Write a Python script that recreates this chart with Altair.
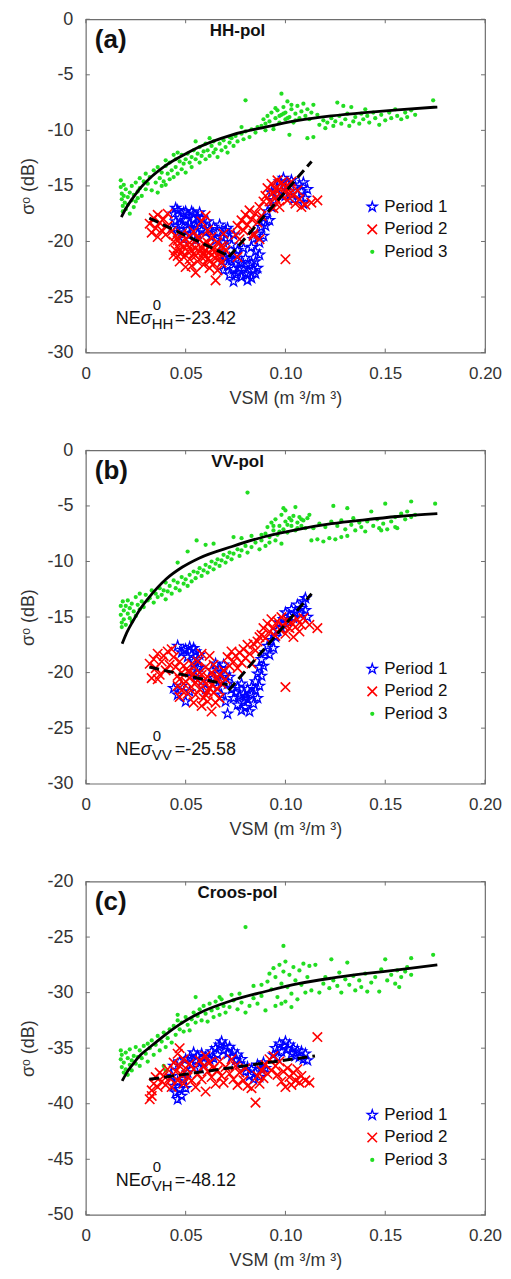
import altair as alt
import pandas as pd

FONT = "Liberation Sans"
W, H = 400, 334

X_TICKS = [0.0, 0.05, 0.10, 0.15, 0.20]
Y_TICKS_AB = [0, -5, -10, -15, -20, -25, -30]
Y_TICKS_C = [-20, -25, -30, -35, -40, -45, -50]
LEGEND_LABELS = ["Period 1", "Period 2", "Period 3"]

BLUE, RED, GREEN = "#0000ff", "#ff0000", "#22dd22"
STAR = ("M0,-1L0.2245,-0.309L0.9511,-0.309L0.3633,0.118L0.5878,0.809L0,0.382"
        "L-0.5878,0.809L-0.3633,0.118L-0.9511,-0.309L-0.2245,-0.309Z")
XMARK = "M-1,-1L1,1M-1,1L1,-1"

# ---------------- Panel (a) HH-pol ----------------
A_P3 = [
    [0.0175, -14.5], [0.0175, -15.1], [0.018, -15.7], [0.018, -16.2], [0.0185, -16.8], [0.0185, -17.3],
    [0.019, -14.9], [0.019, -15.9], [0.0195, -16.5], [0.020, -17.1], [0.020, -15.3], [0.021, -16.0],
    [0.021, -16.7], [0.022, -17.5], [0.022, -15.6], [0.023, -16.3], [0.023, -15.0], [0.024, -16.9],
    [0.024, -15.8], [0.025, -16.4], [0.025, -14.7], [0.026, -15.5], [0.026, -16.1], [0.027, -14.3],
    [0.027, -15.2], [0.028, -15.9], [0.029, -14.6], [0.030, -15.3], [0.030, -13.9], [0.031, -14.8],
    [0.032, -14.2], [0.033, -15.4], [0.034, -13.6], [0.035, -14.7], [0.036, -15.6], [0.036, -13.3],
    [0.037, -14.3], [0.038, -15.0], [0.038, -13.8], [0.039, -14.6], [0.040, -13.2], [0.040, -14.9],
    [0.041, -13.9], [0.042, -14.4], [0.042, -12.9], [0.043, -13.6], [0.044, -14.2], [0.045, -12.6],
    [0.045, -13.3], [0.046, -13.9], [0.047, -12.8], [0.048, -13.5], [0.048, -12.2], [0.049, -13.0],
    [0.050, -12.6], [0.050, -13.8], [0.051, -12.1], [0.052, -12.9], [0.053, -12.4], [0.053, -13.3],
    [0.054, -11.8], [0.055, -12.6], [0.056, -12.1], [0.057, -12.9], [0.057, -11.5], [0.058, -12.3],
    [0.059, -11.9], [0.060, -12.6], [0.060, -11.2], [0.061, -11.8], [0.062, -12.3], [0.063, -11.4],
    [0.064, -12.0], [0.064, -11.0], [0.065, -11.7], [0.066, -12.4], [0.067, -11.2], [0.068, -11.8],
    [0.069, -10.9], [0.070, -11.5], [0.071, -12.0], [0.072, -11.1], [0.073, -10.7], [0.074, -11.4],
    [0.075, -10.5], [0.076, -11.0], [0.078, -10.3], [0.079, -10.8], [0.080, -10.1], [0.082, -10.6],
    [0.083, -9.9], [0.085, -10.2], [0.086, -9.7], [0.040, -12.7], [0.044, -12.2], [0.046, -12.0],
    [0.055, -11.0], [0.062, -10.7], [0.072, -10.6], [0.078, -9.7], [0.080, -7.3],
    [0.088, -9.6], [0.089, -9.0], [0.090, -9.4], [0.091, -8.7], [0.092, -9.2], [0.093, -8.4],
    [0.094, -9.6], [0.095, -8.9], [0.096, -8.2], [0.097, -9.3], [0.098, -8.6], [0.098, -6.7],
    [0.099, -7.9], [0.100, -9.0], [0.100, -8.4], [0.101, -7.4], [0.102, -8.8], [0.103, -8.1],
    [0.104, -9.3], [0.105, -8.5], [0.106, -7.8], [0.107, -8.9], [0.108, -8.3], [0.109, -7.6],
    [0.110, -8.7], [0.111, -8.1], [0.112, -9.0], [0.113, -8.4], [0.114, -7.7], [0.116, -8.6],
    [0.102, -10.4], [0.111, -10.7], [0.114, -10.6], [0.090, -10.0], [0.094, -9.9],
    [0.095, -8.0], [0.097, -8.7], [0.099, -8.5], [0.101, -8.9], [0.103, -7.7], [0.105, -9.1],
    [0.117, -9.5], [0.119, -9.1], [0.120, -9.8], [0.121, -9.3], [0.123, -8.9], [0.124, -9.6],
    [0.125, -9.2], [0.126, -7.5], [0.127, -8.7], [0.128, -9.4], [0.130, -9.0], [0.131, -8.5],
    [0.132, -9.6], [0.133, -7.9], [0.134, -9.2], [0.135, -8.8], [0.137, -9.4], [0.138, -8.5],
    [0.139, -9.0], [0.141, -8.7], [0.142, -9.3], [0.144, -8.4], [0.145, -8.9], [0.147, -9.5],
    [0.148, -8.6], [0.150, -9.1], [0.152, -8.4], [0.153, -8.9], [0.155, -8.1], [0.156, -8.7],
    [0.158, -9.0], [0.160, -8.4], [0.161, -8.8], [0.163, -8.2], [0.165, -8.6], [0.174, -7.3],
    [0.129, -7.8], [0.140, -8.1],
]
A_P1 = [
    [0.044, -17.5], [0.045, -18.2], [0.046, -17.2], [0.047, -17.9], [0.048, -18.6], [0.049, -17.4],
    [0.050, -18.1], [0.051, -17.6], [0.052, -18.4], [0.053, -17.3], [0.054, -18.0], [0.055, -18.7],
    [0.056, -17.8], [0.057, -18.3], [0.058, -19.0], [0.046, -19.2], [0.049, -19.8], [0.052, -19.4],
    [0.055, -19.9], [0.043, -18.8], [0.059, -18.4], [0.060, -19.2],
    [0.045, -17.0], [0.047, -18.5], [0.050, -17.3], [0.051, -18.9], [0.053, -18.8], [0.054, -17.5],
    [0.056, -19.3], [0.057, -17.4], [0.058, -17.9], [0.061, -18.2], [0.062, -18.9],
    [0.063, -19.5], [0.064, -18.7], [0.065, -19.9], [0.066, -19.2], [0.067, -18.5], [0.068, -19.6],
    [0.069, -20.1], [0.070, -19.0], [0.071, -18.8], [0.072, -19.7], [0.073, -20.3], [0.074, -19.4],
    [0.067, -21.0], [0.068, -21.8], [0.069, -22.6], [0.070, -21.4], [0.071, -22.2], [0.072, -23.0],
    [0.073, -21.7], [0.074, -22.5], [0.074, -23.6], [0.075, -21.2], [0.076, -22.8], [0.077, -21.9],
    [0.078, -23.2], [0.079, -22.4], [0.080, -21.5], [0.081, -22.9], [0.082, -22.1], [0.083, -23.3],
    [0.084, -22.6], [0.085, -21.8], [0.086, -22.4], [0.087, -21.2], [0.076, -20.8], [0.079, -20.6],
    [0.081, -23.5], [0.072, -21.5], [0.075, -23.0], [0.077, -22.4], [0.080, -22.9], [0.083, -21.9],
    [0.085, -22.9], [0.078, -22.0],
    [0.083, -20.5], [0.084, -19.8], [0.085, -20.9], [0.086, -19.3], [0.087, -20.1], [0.088, -18.7],
    [0.089, -19.5], [0.089, -17.9], [0.090, -18.6], [0.091, -17.3], [0.092, -18.1], [0.093, -16.9],
    [0.093, -15.6], [0.094, -16.3], [0.095, -15.0], [0.096, -15.8], [0.097, -14.6], [0.098, -15.4],
    [0.099, -14.3], [0.100, -15.9], [0.101, -14.8], [0.102, -15.5], [0.103, -14.5], [0.104, -16.2],
    [0.105, -15.1], [0.106, -15.8], [0.107, -14.9], [0.108, -15.5], [0.109, -14.7], [0.110, -16.1],
    [0.109, -16.6], [0.111, -15.3],
]
A_P2 = [
    [0.032, -18.4], [0.033, -19.2], [0.034, -17.9], [0.035, -18.8], [0.036, -19.6], [0.036, -17.6],
    [0.037, -18.3], [0.038, -19.0], [0.039, -18.0], [0.040, -19.4], [0.041, -17.5], [0.041, -18.6],
    [0.043, -19.1], [0.044, -20.0], [0.045, -20.8], [0.045, -19.5], [0.046, -21.3], [0.047, -20.2],
    [0.048, -19.3], [0.048, -21.0], [0.049, -20.5], [0.050, -19.8], [0.050, -22.3], [0.051, -20.9],
    [0.052, -19.5], [0.052, -21.6], [0.053, -20.3], [0.054, -19.1], [0.054, -21.1], [0.055, -20.6],
    [0.056, -21.8], [0.056, -19.7], [0.057, -20.9], [0.058, -18.2], [0.058, -21.4], [0.059, -20.2],
    [0.059, -22.1], [0.060, -17.7], [0.060, -20.8], [0.061, -21.6], [0.061, -19.0], [0.062, -22.4],
    [0.062, -20.4], [0.063, -21.2], [0.063, -19.6], [0.064, -22.0], [0.064, -20.7], [0.065, -23.5],
    [0.065, -21.5], [0.066, -20.1], [0.066, -22.6], [0.067, -21.0], [0.068, -20.4], [0.068, -21.9],
    [0.069, -19.3], [0.070, -20.8], [0.055, -22.8], [0.053, -22.2], [0.047, -21.8], [0.044, -21.2],
    [0.046, -19.9], [0.047, -20.7], [0.049, -21.4], [0.051, -20.3], [0.053, -20.8], [0.055, -21.3],
    [0.057, -19.8], [0.058, -20.6], [0.060, -21.3], [0.061, -20.1], [0.063, -20.7], [0.065, -20.9],
    [0.067, -21.5], [0.069, -20.5], [0.062, -21.8], [0.059, -21.0], [0.076, -21.4],
    [0.075, -19.4], [0.076, -18.6], [0.077, -19.8], [0.078, -18.1], [0.079, -19.0], [0.080, -17.6],
    [0.081, -18.5], [0.082, -17.2], [0.083, -18.0], [0.084, -19.3], [0.085, -17.5], [0.086, -18.3],
    [0.087, -16.9], [0.088, -17.7], [0.089, -16.4], [0.084, -19.5], [0.087, -19.8],
    [0.090, -15.9], [0.091, -15.2], [0.092, -16.4], [0.093, -14.8], [0.094, -15.6], [0.095, -16.1],
    [0.096, -14.5], [0.097, -15.3], [0.098, -15.9], [0.099, -14.9], [0.100, -15.6], [0.101, -16.3],
    [0.102, -15.1], [0.103, -14.6], [0.104, -15.8], [0.105, -16.6], [0.106, -15.4], [0.107, -16.2],
    [0.108, -16.9], [0.110, -16.7], [0.113, -16.5], [0.116, -16.3], [0.100, -21.6], [0.097, -16.9],
    [0.094, -17.0], [0.095, -15.3], [0.098, -14.7], [0.100, -15.1], [0.102, -15.7], [0.096, -16.4],
]
A_CURVE = [
    [0.0178, -17.8], [0.0205, -16.9], [0.0235, -16.1], [0.0275, -15.15], [0.0318, -14.35],
    [0.0401, -13.15], [0.0501, -12.1], [0.0567, -11.5], [0.0733, -10.4], [0.0899, -9.7],
    [0.1065, -9.1], [0.1231, -8.7], [0.1396, -8.4], [0.1562, -8.15], [0.1761, -7.9],
]
A_DASH = [[0.0318, -17.9, 1], [0.0716, -21.3, 1], [0.0716, -21.4, 2], [0.1131, -12.8, 2]]

# ---------------- Panel (b) VV-pol ----------------
B_P3 = [
    [0.0175, -14.0], [0.0175, -14.8], [0.018, -15.5], [0.018, -15.9], [0.0185, -13.6], [0.019, -14.4],
    [0.019, -15.2], [0.020, -14.0], [0.020, -15.7], [0.021, -14.7], [0.021, -13.5], [0.022, -15.1],
    [0.022, -14.2], [0.023, -13.8], [0.023, -15.4], [0.024, -14.5], [0.025, -13.2], [0.025, -14.9],
    [0.026, -13.9], [0.027, -14.3], [0.027, -12.9], [0.028, -13.6], [0.029, -14.1], [0.030, -13.0],
    [0.031, -13.5],
    [0.032, -13.3], [0.033, -12.6], [0.034, -13.7], [0.035, -12.9], [0.036, -13.2], [0.037, -12.4],
    [0.038, -13.0], [0.039, -12.6], [0.040, -13.4], [0.040, -11.9], [0.041, -12.7], [0.042, -12.2],
    [0.043, -12.9], [0.044, -11.7], [0.045, -12.4], [0.046, -11.9], [0.047, -12.6], [0.048, -11.4],
    [0.049, -12.0], [0.050, -11.6], [0.051, -12.2], [0.052, -11.2], [0.053, -11.8], [0.054, -10.9],
    [0.055, -11.5], [0.056, -11.0], [0.057, -10.6], [0.058, -11.3], [0.059, -10.8], [0.060, -10.3],
    [0.061, -11.0], [0.062, -10.5], [0.063, -10.0], [0.064, -10.7], [0.065, -10.2], [0.066, -9.8],
    [0.067, -10.4], [0.068, -9.9], [0.069, -9.4], [0.070, -10.1], [0.071, -9.6], [0.072, -9.2],
    [0.073, -9.8], [0.074, -9.3], [0.076, -8.9], [0.077, -9.5], [0.078, -9.0], [0.080, -8.6],
    [0.081, -9.2], [0.083, -8.7], [0.085, -8.3], [0.087, -8.9], [0.088, -8.1],
    [0.046, -10.1], [0.051, -9.1], [0.0555, -8.1], [0.060, -8.5], [0.064, -8.4], [0.074, -7.8],
    [0.078, -7.9], [0.083, -7.7], [0.088, -7.6], [0.081, -3.8],
    [0.090, -7.5], [0.091, -6.9], [0.092, -7.8], [0.093, -6.5], [0.094, -7.2], [0.095, -6.2],
    [0.096, -7.6], [0.097, -6.8], [0.098, -5.8], [0.099, -7.1], [0.100, -6.4], [0.100, -5.4],
    [0.101, -7.4], [0.102, -6.1], [0.103, -6.8], [0.104, -5.9], [0.105, -7.2], [0.106, -6.5],
    [0.107, -6.0], [0.108, -6.8], [0.109, -6.3], [0.110, -7.0], [0.111, -6.1], [0.112, -5.8],
    [0.092, -8.3], [0.095, -8.1], [0.098, -8.4], [0.090, -8.6], [0.099, -5.2], [0.105, -5.1],
    [0.094, -6.8], [0.097, -7.3], [0.101, -6.7], [0.103, -6.3], [0.106, -7.0], [0.108, -6.2],
    [0.113, -8.1], [0.116, -8.0], [0.119, -8.2], [0.122, -7.9], [0.125, -8.0], [0.128, -7.8],
    [0.131, -7.7], [0.114, -7.0], [0.117, -6.6], [0.120, -6.9], [0.123, -6.4], [0.124, -5.0],
    [0.126, -6.8], [0.128, -6.3], [0.130, -7.1], [0.131, -5.2], [0.133, -6.7], [0.134, -6.1],
    [0.135, -7.2], [0.137, -6.5], [0.138, -6.9], [0.140, -7.3], [0.141, -6.4], [0.143, -5.5],
    [0.144, -6.8], [0.146, -6.2], [0.147, -7.0], [0.149, -6.6], [0.150, -4.8], [0.151, -7.1],
    [0.153, -6.4], [0.155, -6.0], [0.156, -7.0], [0.158, -5.7], [0.160, -6.2], [0.161, -5.5],
    [0.163, -4.6], [0.163, -6.0], [0.165, -5.8], [0.175, -4.8], [0.155, -6.9], [0.148, -7.2],
]
B_P1 = [
    [0.046, -17.6], [0.048, -18.2], [0.050, -17.9], [0.051, -18.6], [0.052, -17.7], [0.053, -18.4],
    [0.054, -19.0], [0.055, -18.1], [0.056, -18.8], [0.057, -19.5], [0.053, -19.9], [0.055, -20.4],
    [0.044, -21.4], [0.046, -22.0], [0.048, -21.2], [0.050, -22.6], [0.052, -21.7], [0.058, -20.8],
    [0.060, -21.5], [0.049, -18.0], [0.054, -17.8], [0.056, -19.6], [0.057, -18.4],
    [0.063, -19.8], [0.064, -20.5], [0.065, -19.2], [0.066, -20.1], [0.067, -19.6], [0.068, -20.7],
    [0.069, -19.3], [0.070, -20.2], [0.071, -21.0], [0.072, -20.4], [0.066, -21.3], [0.068, -22.0],
    [0.070, -22.6], [0.071, -23.7],
    [0.073, -21.5], [0.074, -22.3], [0.075, -21.8], [0.076, -22.9], [0.077, -22.1], [0.078, -23.4],
    [0.079, -22.6], [0.080, -23.1], [0.081, -22.4], [0.082, -23.5], [0.083, -22.0], [0.084, -22.8],
    [0.085, -21.6], [0.086, -22.3], [0.087, -21.2], [0.078, -21.0], [0.081, -21.5], [0.076, -21.3],
    [0.079, -21.9], [0.083, -21.3], [0.080, -22.2],
    [0.085, -20.8], [0.086, -20.1], [0.087, -19.5], [0.088, -20.3], [0.088, -18.8], [0.089, -19.4],
    [0.090, -18.2], [0.091, -17.6], [0.092, -18.4], [0.093, -17.1], [0.094, -17.8], [0.095, -16.8],
    [0.096, -16.2], [0.097, -15.5], [0.098, -16.0], [0.099, -15.2], [0.100, -14.6], [0.101, -15.4],
    [0.102, -14.9], [0.103, -14.3], [0.104, -15.1], [0.105, -14.6], [0.106, -13.9], [0.107, -14.7],
    [0.108, -14.2], [0.109, -13.6], [0.110, -14.4], [0.111, -15.0], [0.110, -13.3],
]
B_P2 = [
    [0.032, -19.2], [0.033, -20.5], [0.034, -18.8], [0.035, -19.6], [0.036, -18.3], [0.037, -20.2],
    [0.038, -19.0], [0.039, -18.5], [0.040, -19.8], [0.041, -18.1], [0.042, -19.3], [0.043, -17.9],
    [0.036, -20.6],
    [0.044, -18.6], [0.045, -19.5], [0.046, -20.3], [0.046, -21.2], [0.047, -19.0], [0.048, -20.0],
    [0.048, -21.6], [0.049, -19.4], [0.050, -20.8], [0.051, -19.9], [0.051, -21.9], [0.052, -20.5],
    [0.053, -19.2], [0.053, -21.3], [0.054, -20.1], [0.055, -22.0], [0.056, -20.7], [0.056, -19.0],
    [0.057, -21.5], [0.058, -20.2], [0.058, -18.3], [0.059, -22.3], [0.060, -21.0], [0.060, -19.5],
    [0.061, -20.4], [0.061, -22.6], [0.062, -21.4], [0.062, -18.5], [0.063, -20.0], [0.063, -23.5],
    [0.064, -21.8], [0.064, -19.3], [0.065, -22.7], [0.065, -20.6], [0.066, -21.5], [0.067, -20.2],
    [0.067, -22.3], [0.068, -21.0], [0.069, -19.8], [0.070, -20.6], [0.047, -22.2], [0.054, -22.7],
    [0.058, -23.0], [0.047, -20.6], [0.049, -21.0], [0.052, -19.9], [0.055, -20.9], [0.057, -20.0],
    [0.059, -20.7], [0.061, -21.7], [0.063, -21.1], [0.066, -20.4], [0.060, -22.0],
    [0.071, -18.6], [0.072, -19.4], [0.073, -18.1], [0.074, -19.0], [0.075, -18.5], [0.076, -19.6],
    [0.077, -18.2], [0.078, -19.1], [0.079, -17.9], [0.080, -18.7], [0.081, -17.5], [0.082, -18.3],
    [0.083, -19.2], [0.084, -17.4], [0.085, -18.0], [0.086, -17.2], [0.087, -16.8],
    [0.088, -16.6], [0.089, -16.0], [0.090, -16.9], [0.091, -15.6], [0.092, -16.3], [0.093, -15.2],
    [0.094, -16.0], [0.095, -16.7], [0.096, -15.4], [0.097, -16.1], [0.098, -15.0], [0.099, -15.8],
    [0.100, -16.5], [0.101, -15.3], [0.102, -16.0], [0.103, -15.5], [0.104, -16.8], [0.105, -15.9],
    [0.106, -15.2], [0.107, -16.3], [0.108, -15.7], [0.109, -15.1], [0.112, -15.7], [0.116, -16.0],
    [0.100, -21.3],
]
B_CURVE = [
    [0.0182, -17.4], [0.0205, -16.4], [0.0235, -15.4], [0.0275, -14.2], [0.0318, -13.2],
    [0.0401, -11.6], [0.0484, -10.5], [0.0567, -9.7], [0.0733, -8.65], [0.0899, -7.75],
    [0.1065, -7.1], [0.1231, -6.6], [0.1396, -6.25], [0.1562, -5.95], [0.1761, -5.7],
]
B_DASH = [[0.0318, -19.5, 1], [0.0710, -21.1, 1], [0.0716, -21.6, 2], [0.1131, -12.9, 2]]

# ---------------- Panel (c) Cross-pol ----------------
C_P3 = [
    [0.0175, -35.2], [0.0175, -36.0], [0.018, -36.7], [0.018, -35.6], [0.019, -37.2], [0.019, -36.3],
    [0.020, -35.4], [0.020, -36.9], [0.021, -35.9], [0.021, -37.4], [0.022, -36.5], [0.022, -35.1],
    [0.023, -36.1], [0.023, -37.0], [0.024, -35.7], [0.025, -36.4], [0.025, -34.9], [0.026, -35.8],
    [0.027, -36.6], [0.027, -35.2], [0.028, -35.9], [0.029, -34.8], [0.030, -35.5], [0.031, -36.2],
    [0.031, -34.6],
    [0.032, -35.0], [0.033, -34.3], [0.034, -35.6], [0.035, -34.7], [0.036, -33.9], [0.037, -35.2],
    [0.038, -34.4], [0.039, -36.6], [0.039, -33.6], [0.040, -34.9], [0.040, -37.0], [0.041, -34.1],
    [0.042, -33.3], [0.043, -34.5], [0.044, -33.0], [0.045, -33.8], [0.046, -32.5], [0.046, -32.0],
    [0.047, -33.3], [0.048, -32.7], [0.049, -33.5], [0.050, -32.2], [0.051, -32.9], [0.052, -33.4],
    [0.053, -32.4], [0.054, -31.8], [0.055, -32.7], [0.055, -30.4], [0.056, -32.1], [0.057, -31.5],
    [0.058, -32.5], [0.059, -31.2], [0.060, -31.9], [0.061, -32.6], [0.062, -31.0], [0.063, -31.6],
    [0.064, -32.2], [0.065, -30.8], [0.066, -31.4], [0.067, -32.0], [0.068, -30.6], [0.069, -31.2],
    [0.070, -31.8], [0.067, -30.4], [0.073, -30.2], [0.077, -30.1], [0.084, -29.4], [0.088, -29.3],
    [0.072, -31.3], [0.074, -30.7], [0.076, -31.5], [0.078, -30.9], [0.080, -31.8], [0.080, -24.1],
    [0.082, -31.2], [0.084, -30.5], [0.086, -31.0], [0.088, -30.3], [0.090, -31.6],
    [0.091, -29.0], [0.092, -28.3], [0.093, -29.7], [0.094, -27.8], [0.095, -28.6], [0.096, -30.4],
    [0.097, -27.5], [0.098, -29.2], [0.099, -25.8], [0.099, -28.1], [0.100, -30.8], [0.100, -27.2],
    [0.101, -29.5], [0.102, -28.4], [0.103, -30.1], [0.104, -27.7], [0.105, -28.9], [0.106, -30.6],
    [0.107, -28.0], [0.108, -29.3], [0.109, -27.4], [0.110, -30.0], [0.111, -28.6], [0.112, -27.6],
    [0.113, -29.8], [0.115, -27.5], [0.095, -31.2], [0.098, -31.0], [0.103, -31.3],
    [0.117, -30.0], [0.119, -29.2], [0.120, -28.6], [0.122, -29.6], [0.123, -27.0], [0.124, -28.9],
    [0.126, -29.4], [0.127, -28.2], [0.128, -30.0], [0.130, -28.8], [0.131, -27.3], [0.132, -29.3],
    [0.134, -28.5], [0.135, -29.8], [0.137, -28.9], [0.138, -29.5], [0.140, -28.3], [0.141, -29.9],
    [0.143, -29.1], [0.145, -28.6], [0.147, -29.9], [0.148, -27.9], [0.150, -27.0], [0.151, -28.9],
    [0.153, -28.4], [0.155, -29.2], [0.156, -28.0], [0.158, -28.6], [0.160, -28.1], [0.161, -27.7],
    [0.163, -28.4], [0.163, -26.9], [0.174, -26.6], [0.157, -29.5],
]
C_P1 = [
    [0.043, -37.5], [0.044, -38.4], [0.045, -39.0], [0.046, -38.0], [0.046, -39.6], [0.047, -38.7],
    [0.048, -39.3], [0.049, -37.8], [0.050, -38.6], [0.051, -37.2], [0.044, -36.6], [0.047, -36.2],
    [0.050, -36.0],
    [0.052, -35.9], [0.053, -36.5], [0.054, -35.4], [0.055, -36.1], [0.056, -35.7], [0.057, -36.8],
    [0.058, -35.5], [0.059, -36.3], [0.060, -35.8],
    [0.062, -36.0], [0.063, -35.3], [0.064, -35.9], [0.065, -35.0], [0.066, -35.6], [0.067, -34.7],
    [0.068, -34.4], [0.069, -35.2], [0.070, -34.8], [0.071, -35.5], [0.072, -34.9], [0.073, -35.8],
    [0.074, -35.3], [0.075, -36.1], [0.076, -35.6], [0.077, -36.4], [0.078, -36.0],
    [0.080, -37.1], [0.081, -36.7], [0.082, -37.5], [0.083, -36.9], [0.084, -37.8], [0.085, -37.2],
    [0.086, -36.5], [0.087, -37.6], [0.088, -36.9], [0.089, -36.3], [0.090, -36.8],
    [0.094, -35.6], [0.095, -35.0], [0.096, -35.8], [0.097, -34.6], [0.098, -35.3], [0.099, -34.8],
    [0.100, -34.4], [0.101, -35.1], [0.102, -34.7], [0.103, -35.5], [0.104, -35.0], [0.105, -35.7],
    [0.106, -35.2], [0.107, -35.8], [0.108, -35.3], [0.109, -36.0], [0.110, -35.5], [0.111, -36.1],
]
C_P2 = [
    [0.032, -39.6], [0.033, -38.8], [0.033, -39.3], [0.034, -38.2], [0.035, -37.6], [0.036, -38.5],
    [0.037, -37.2], [0.038, -38.0], [0.039, -37.5], [0.040, -38.3], [0.041, -36.9], [0.042, -37.7],
    [0.043, -38.5], [0.044, -36.3], [0.045, -37.1], [0.046, -35.5], [0.046, -37.9], [0.047, -35.0],
    [0.047, -36.6], [0.048, -37.4], [0.049, -36.0], [0.049, -38.2], [0.050, -36.8], [0.051, -37.6],
    [0.052, -36.4], [0.053, -37.9], [0.054, -36.9], [0.055, -38.5], [0.056, -37.3], [0.057, -36.1],
    [0.058, -37.8], [0.059, -36.6], [0.060, -35.7], [0.060, -38.9], [0.061, -37.1], [0.062, -36.3],
    [0.063, -37.6], [0.064, -36.8], [0.065, -38.2], [0.066, -37.0], [0.067, -36.2], [0.068, -37.5],
    [0.069, -38.1], [0.070, -36.7], [0.072, -37.3], [0.073, -36.0], [0.074, -37.8], [0.075, -36.6],
    [0.076, -38.3], [0.077, -37.2], [0.079, -37.9], [0.080, -36.8], [0.081, -38.4], [0.083, -38.6],
    [0.085, -39.9], [0.086, -37.5], [0.087, -38.2], [0.088, -37.0], [0.089, -37.7], [0.090, -36.5],
    [0.091, -37.3], [0.092, -36.0], [0.093, -37.0], [0.094, -35.7], [0.095, -36.6], [0.096, -37.4],
    [0.097, -36.2], [0.098, -38.0], [0.099, -37.1], [0.100, -38.5], [0.101, -36.8], [0.102, -37.6],
    [0.103, -38.3], [0.104, -37.2], [0.105, -37.9], [0.106, -36.9], [0.107, -38.1], [0.108, -37.5],
    [0.110, -37.9], [0.112, -38.1], [0.116, -34.0],
]
C_CURVE = [
    [0.0182, -37.95], [0.0205, -37.2], [0.0235, -36.45], [0.0275, -35.6], [0.0318, -34.95],
    [0.0401, -33.75], [0.0484, -32.7], [0.0567, -31.85], [0.0733, -30.7], [0.0899, -29.9],
    [0.1065, -29.2], [0.1231, -28.7], [0.1396, -28.3], [0.1562, -27.95], [0.1761, -27.5],
]
C_DASH = [[0.0318, -37.8, 1], [0.1148, -35.7, 1]]

PANELS = [
    dict(p1=A_P1, p2=A_P2, p3=A_P3, curve=A_CURVE, dash=A_DASH, dom=[-30, 0], ticks=Y_TICKS_AB,
         letter="(a)", pol="HH-pol", sub="HH", val="=-23.42", leg=188),
    dict(p1=B_P1, p2=B_P2, p3=B_P3, curve=B_CURVE, dash=B_DASH, dom=[-30, 0], ticks=Y_TICKS_AB,
         letter="(b)", pol="VV-pol", sub="VV", val="=-25.58", leg=219),
    dict(p1=C_P1, p2=C_P2, p3=C_P3, curve=C_CURVE, dash=C_DASH, dom=[-50, -20], ticks=Y_TICKS_C,
         letter="(c)", pol="Croos-pol", sub="VH", val="=-48.12", leg=234),
]


def frame(pairs):
    return pd.DataFrame(pairs, columns=["vsm", "db"])


def text_layer(txt, x, y, size, weight="normal", align="left", baseline="alphabetic", style="normal"):
    return alt.Chart(pd.DataFrame({"t": [txt]})).mark_text(
        font=FONT, fontSize=size, fontWeight=weight, fontStyle=style, align=align,
        baseline=baseline, color="#111111"
    ).encode(x=alt.value(x), y=alt.value(y), text="t:N")


def star_mark():
    return dict(shape=STAR, filled=False, color=BLUE, size=110, strokeWidth=1.3, opacity=1)


def x_mark():
    return dict(shape=XMARK, filled=False, color=RED, size=90, strokeWidth=1.6, opacity=1)


def dot_mark():
    return dict(color=GREEN, size=18, opacity=1)


def panel(cfg):
    xenc = alt.X("vsm:Q", scale=alt.Scale(domain=[0, 0.2], nice=False, zero=False),
                 axis=alt.Axis(values=X_TICKS, title="VSM (m ³/m ³)", labelFontSize=17,
                               labelExpr="datum.value == 0 ? '0' : format(datum.value, '.2f')"))
    yenc = alt.Y("db:Q", scale=alt.Scale(domain=cfg["dom"], nice=False, zero=False),
                 axis=alt.Axis(values=cfg["ticks"], title="σᵒ (dB)", labelExpr="'' + datum.value"))

    layers = []
    # inward ticks on all four sides
    xt = alt.Chart(pd.DataFrame({"vsm": X_TICKS}))
    yt = alt.Chart(pd.DataFrame({"db": cfg["ticks"]}))
    tick_style = dict(color="#6e6e6e", strokeWidth=1)
    layers += [
        xt.mark_rule(**tick_style).encode(x=xenc, y=alt.value(H), y2=alt.value(H - 4)),
        xt.mark_rule(**tick_style).encode(x=xenc, y=alt.value(0), y2=alt.value(4)),
        yt.mark_rule(**tick_style).encode(y=yenc, x=alt.value(0), x2=alt.value(4)),
        yt.mark_rule(**tick_style).encode(y=yenc, x=alt.value(W), x2=alt.value(W - 4)),
    ]
    layers.append(alt.Chart(frame(cfg["p3"])).mark_circle(**dot_mark()).encode(x=xenc, y=yenc))
    layers.append(alt.Chart(frame(cfg["p1"])).mark_point(**star_mark()).encode(x=xenc, y=yenc))
    layers.append(alt.Chart(frame(cfg["p2"])).mark_point(**x_mark()).encode(x=xenc, y=yenc))
    layers.append(alt.Chart(frame(cfg["curve"])).mark_line(color="black", strokeWidth=2.8,
                                                            interpolate="monotone")
                  .encode(x=xenc, y=yenc))
    dash = pd.DataFrame(cfg["dash"], columns=["vsm", "db", "seg"])
    layers.append(alt.Chart(dash).mark_line(color="black", strokeWidth=3, strokeDash=[10, 5])
                  .encode(x=xenc, y=yenc, detail="seg:N"))

    # panel texts
    layers.append(text_layer(cfg["letter"], 9, 29, 26, weight="bold"))
    layers.append(text_layer(cfg["pol"], 152, 17, 17, weight="bold", align="center"))
    layers.append(text_layer("NE", 30, 305, 18))
    layers.append(text_layer("σ", 55, 305, 18, style="italic"))
    layers.append(text_layer("0", 67, 291, 15))
    layers.append(text_layer(cfg["sub"], 66, 310, 15))
    layers.append(text_layer(cfg["val"], 89, 305, 18))

    # legend
    ly = cfg["leg"]
    marks = [star_mark(), x_mark(), dot_mark()]
    for i, lab in enumerate(LEGEND_LABELS):
        yy = ly + 22.5 * i
        one = alt.Chart(pd.DataFrame({"t": [lab]}))
        if i < 2:
            layers.append(one.mark_point(**marks[i]).encode(x=alt.value(287), y=alt.value(yy)))
        else:
            layers.append(one.mark_circle(**marks[i]).encode(x=alt.value(287), y=alt.value(yy)))
        layers.append(text_layer(lab, 299, yy, 17, baseline="middle"))

    return alt.layer(*layers).properties(width=W, height=H)


chart = alt.vconcat(*[panel(c) for c in PANELS], spacing=32).properties(
    padding={"left": 11, "top": 0, "right": 0, "bottom": 0}
).configure_view(
    stroke="#6e6e6e", strokeWidth=1.2
).configure_axis(
    domain=False, ticks=False, grid=False, labelFlush=False,
    labelFont=FONT, labelFontSize=18, labelColor="#333333", labelPadding=13,
    titleFont=FONT, titleFontSize=18, titleFontWeight="normal", titleColor="#333333",
).configure_axisX(titlePadding=8).configure_axisY(titlePadding=9)

chart.save("out.html", embed_options={"renderer": "svg", "actions": False})
